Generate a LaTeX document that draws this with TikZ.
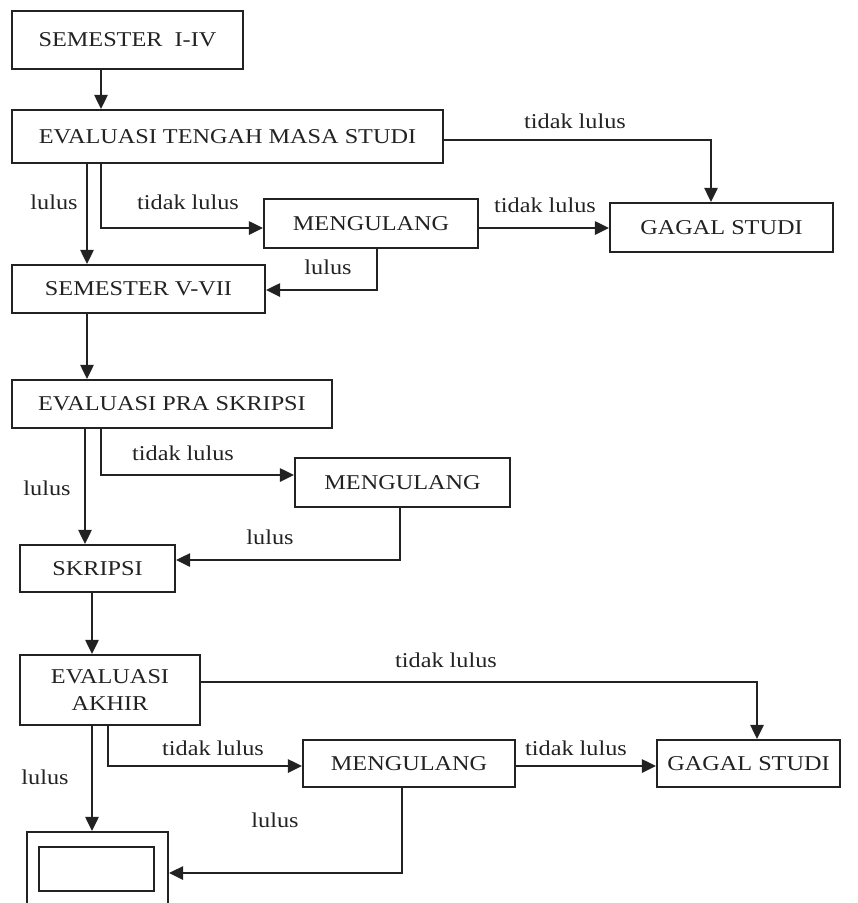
\documentclass[tikz,border=0pt]{standalone}
\usepackage{fontspec}
\setmainfont{Liberation Serif}[FakeStretch=1.15]
\usetikzlibrary{arrows.meta,calc}
\definecolor{ink}{HTML}{222222}
\tikzset{
  box/.style={draw=ink, line width=1.2pt, rectangle, align=center, inner sep=0pt, text=ink,
    font=\fontsize{12}{15}\selectfont},
  conn/.style={draw=ink, line width=1.3pt, -{Triangle[length=8pt,width=7.5pt]}},
  lbl/.style={text=ink, font=\fontsize{12}{15}\selectfont, inner sep=0pt}
}
\begin{document}
\begin{tikzpicture}[x=0.02cm,y=-0.02cm]
\useasboundingbox (0,0) rectangle (858,903);
% boxes
\node[box, minimum width=4.62cm, minimum height=1.16cm] (s1) at (127.5,40) {SEMESTER\ \ I-IV};
\node[box, minimum width=8.62cm, minimum height=1.06cm] (etms) at (227.5,136.5) {EVALUASI TENGAH MASA STUDI};
\node[box, minimum width=4.28cm, minimum height=0.98cm] (m1) at (371,223.5) {MENGULANG};
\node[box, minimum width=4.46cm, minimum height=0.98cm] (g1) at (721.5,227.5) {GAGAL STUDI};
\node[box, minimum width=5.06cm, minimum height=0.96cm] (s2) at (138.5,289) {SEMESTER V-VII};
\node[box, minimum width=6.40cm, minimum height=0.96cm] (eps) at (172,404) {EVALUASI PRA SKRIPSI};
\node[box, minimum width=4.30cm, minimum height=0.98cm] (m2) at (402.5,482.5) {MENGULANG};
\node[box, minimum width=3.10cm, minimum height=0.94cm] (sk) at (97.5,568.5) {SKRIPSI};
\node[box, minimum width=3.60cm, minimum height=1.40cm] (ea) at (110,690) {EVALUASI\\AKHIR};
\node[box, minimum width=4.24cm, minimum height=0.94cm] (m3) at (409,763.5) {MENGULANG};
\node[box, minimum width=3.66cm, minimum height=0.94cm] (g2) at (748.5,763.5) {GAGAL STUDI};
\node[box, minimum width=2.82cm, minimum height=1.60cm] (fin) at (97.5,872) {};
\node[box, minimum width=2.30cm, minimum height=0.88cm] (finin) at (96.5,869) {};
% connectors
\draw[conn] (s1.south -| 101,0) -- (etms.north -| 101,0);
\draw[conn] (etms.south -| 87,0) -- (s2.north -| 87,0);
\draw[conn] (etms.south -| 101,0) |- (m1.west |- 0,228);
\draw[conn] (etms.east |- 0,140) -| (g1.north -| 711,0);
\draw[conn] (m1.east |- 0,228) -- (g1.west |- 0,228);
\draw[conn] (m1.south -| 377,0) |- (s2.east |- 0,290);
\draw[conn] (s2.south -| 87,0) -- (eps.north -| 87,0);
\draw[conn] (eps.south -| 85,0) -- (sk.north -| 85,0);
\draw[conn] (eps.south -| 101,0) |- (m2.west |- 0,475);
\draw[conn] (m2.south -| 400,0) |- (sk.east |- 0,560);
\draw[conn] (sk.south -| 92,0) -- (ea.north -| 92,0);
\draw[conn] (ea.east |- 0,682) -| (g2.north -| 757,0);
\draw[conn] (ea.south -| 108,0) |- (m3.west |- 0,766);
\draw[conn] (m3.east |- 0,766) -- (g2.west |- 0,766);
\draw[conn] (ea.south -| 92,0) -- (fin.north -| 92,0);
\draw[conn] (m3.south -| 402,0) |- (fin.east |- 0,873);
% labels
\node[lbl] (l1) at (575,121) {tidak lulus};
\node[lbl] (l2) at (54,202) {lulus};
\node[lbl] (l3) at (188,202) {tidak lulus};
\node[lbl] (l4) at (545,205) {tidak lulus};
\node[lbl] (l5) at (328,267) {lulus};
\node[lbl] (l6) at (183,453) {tidak lulus};
\node[lbl] (l7) at (47,488) {lulus};
\node[lbl] (l8) at (270,537) {lulus};
\node[lbl] (l9) at (446,660) {tidak lulus};
\node[lbl] (l10) at (213,748) {tidak lulus};
\node[lbl] (l11) at (576,748) {tidak lulus};
\node[lbl] (l12) at (45,777) {lulus};
\node[lbl] (l13) at (275,820) {lulus};
\end{tikzpicture}
\end{document}
